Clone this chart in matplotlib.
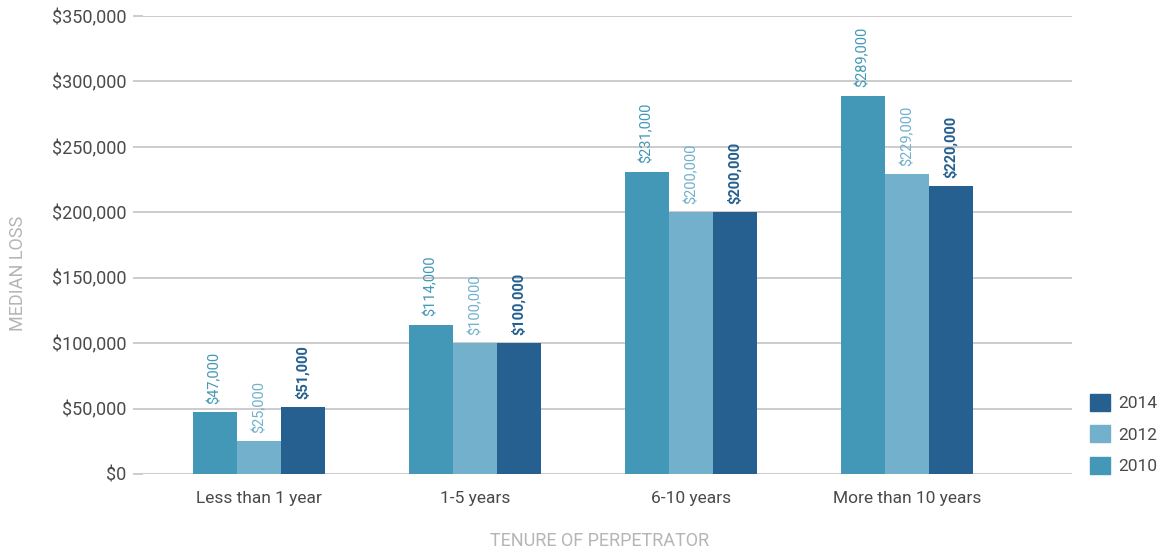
import numpy as np
import matplotlib
matplotlib.use("Agg")
import matplotlib.pyplot as plt
from matplotlib.patches import Patch

categories = ["Less than 1 year", "1-5 years", "6-10 years", "More than 10 years"]
years = ["2010", "2012", "2014"]
loss_2010 = [47000, 114000, 231000, 289000]
loss_2012 = [25000, 100000, 200000, 229000]
loss_2014 = [51000, 100000, 200000, 220000]
colors = {"2010": "#4398b7", "2012": "#72b0cb", "2014": "#256090"}

plt.rcParams["font.family"] = ["Roboto", "DejaVu Sans"]

fig = plt.figure(figsize=(11.67, 5.54), dpi=100)
ax = fig.add_axes([143 / 1167, 1 - 474 / 554, (1072 - 143) / 1167, 458 / 554])

x = np.arange(len(categories))
width = 0.204
series = [("2010", loss_2010), ("2012", loss_2012), ("2014", loss_2014)]
for i, (yr, vals) in enumerate(series):
    pos = x + (i - 1) * width
    bars = ax.bar(pos, vals, width=width * 0.985, color=colors[yr], zorder=3)
    # value labels, rotated, same colour as the bar
    for b, v in zip(bars, vals):
        ax.annotate(f"${v:,}", (b.get_x() + b.get_width() / 2, v),
                    xytext=(0, 6), textcoords="offset points",
                    rotation=90, ha="center", va="bottom",
                    fontsize=10.5, color=colors[yr],
                    fontweight="bold" if yr == "2014" else "normal")

ax.set_ylim(0, 350000)
ax.set_xlim(-0.537, 3.764)
ax.set_yticks(np.arange(0, 350001, 50000))
ax.set_yticklabels([f"${v:,}" for v in range(0, 350001, 50000)])
ax.yaxis.grid(True, color="#c8c8c8", linewidth=1.3, zorder=0)
ax.set_axisbelow(True)
for s in ax.spines.values():
    s.set_visible(False)
ax.tick_params(axis="y", length=7, color="#c8c8c8", width=1.3, labelsize=13,
               labelcolor="#4a4a4a", pad=5)
ax.tick_params(axis="x", length=0, labelsize=12.5, labelcolor="#4a4a4a", pad=12)
ax.set_xticks(x)
ax.set_xticklabels(categories)

fig.text(18 / 1167, 1 - 273 / 554, "MEDIAN LOSS", rotation=90, ha="center", va="center",
         fontsize=13, color="#b5b5b5")
fig.text(600 / 1167, 1 - 541 / 554, "TENURE OF PERPETRATOR", ha="center", va="center",
         fontsize=13, color="#b5b5b5")

handles = [Patch(color=colors[y]) for y in ["2014", "2012", "2010"]]
fig.legend(handles, ["2014", "2012", "2010"], loc="center left",
           bbox_to_anchor=(1090 / 1167, 1 - 434 / 554), frameon=False,
           fontsize=12.5, labelcolor="#4a4a4a", handlelength=1.15, handleheight=1.15,
           labelspacing=0.8, handletextpad=0.5, borderpad=0, borderaxespad=0)

fig.savefig("out.png", dpi=100)
